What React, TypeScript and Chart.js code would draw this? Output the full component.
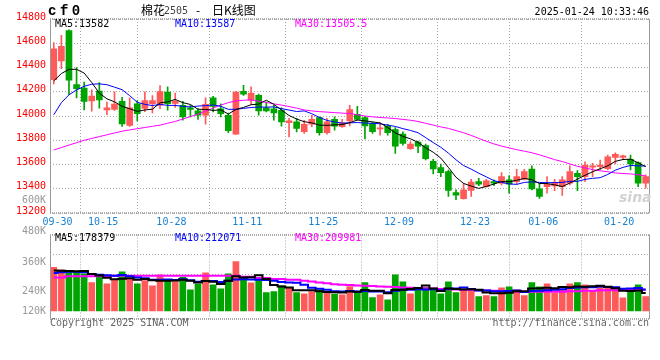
import React, { useEffect, useRef } from "react";
import { Chart, registerables } from "chart.js";

Chart.register(...registerables);

const dates = [
  "09-30","10-08","10-09","10-10","10-11","10-14","10-15","10-16","10-17","10-18",
  "10-21","10-22","10-23","10-24","10-25","10-28","10-29","10-30","10-31","11-01",
  "11-04","11-05","11-06","11-07","11-08","11-11","11-12","11-13","11-14","11-15",
  "11-18","11-19","11-20","11-21","11-22","11-25","11-26","11-27","11-28","11-29",
  "12-02","12-03","12-04","12-05","12-06","12-09","12-10","12-11","12-12","12-13",
  "12-16","12-17","12-18","12-19","12-20","12-23","12-24","12-25","12-26","12-27",
  "12-30","12-31","01-02","01-03","01-06","01-07","01-08","01-09","01-10","01-13",
  "01-14","01-15","01-16","01-17","01-20","01-21","01-22","01-23","01-24"
];

const axisDates = ["09-30","10-15","10-28","11-11","11-25","12-09","12-23","01-06","01-20"];

const openP = [
  14300,14455,14705,14260,14230,14125,14205,14050,14055,14120,
  13922,14100,14062,14102,14090,14198,14103,14088,14068,14042,
  14006,14150,14060,14006,13850,14203,14130,14170,14068,14060,
  14047,13946,13952,13870,13932,13987,13862,13972,13911,13960,
  14014,13987,13938,13894,13916,13889,13850,13730,13785,13757,
  13626,13574,13541,13369,13318,13386,13459,13418,13459,13446,
  13473,13459,13478,13563,13399,13418,13424,13418,13446,13527,
  13500,13577,13582,13566,13659,13659,13642,13615,13446
];
const highP = [
  14605,14665,14710,14400,14280,14215,14275,14115,14200,14155,
  14150,14128,14200,14168,14250,14240,14190,14120,14088,14062,
  14150,14162,14100,14025,14204,14252,14240,14180,14115,14088,
  14068,13980,13980,13965,14006,13993,13980,13993,13973,14088,
  14080,13998,13952,13943,13932,13905,13869,13787,13793,13768,
  13642,13604,13555,13391,13445,13478,13486,13478,13473,13533,
  13506,13560,13560,13590,13445,13500,13478,13500,13590,13549,
  13623,13610,13637,13678,13697,13678,13678,13623,13514
];
const lowP = [
  14265,14390,14175,14150,14050,14040,14065,14010,14045,13915,
  13915,13960,14035,14025,14060,14048,14070,13965,13993,13972,
  13932,14034,13993,13862,13848,14170,14096,14006,14034,13965,
  13916,13828,13869,13856,13911,13842,13850,13883,13905,13919,
  13965,13812,13856,13842,13842,13692,13760,13724,13697,13637,
  13522,13500,13336,13309,13314,13336,13426,13413,13426,13432,
  13363,13437,13473,13391,13320,13363,13385,13344,13432,13385,
  13459,13500,13555,13555,13604,13642,13555,13418,13404
];
const closeP = [
  14555,14575,14295,14225,14120,14165,14133,14068,14098,13935,
  14068,14020,14128,14128,14202,14102,14123,13993,14054,14006,
  14096,14080,14020,13878,14198,14180,14190,14042,14042,14026,
  13952,13960,13897,13932,13972,13862,13952,13916,13943,14053,
  13971,13919,13870,13902,13862,13752,13774,13768,13752,13648,
  13563,13533,13386,13347,13391,13454,13437,13465,13446,13500,
  13437,13500,13541,13399,13337,13437,13445,13473,13541,13500,
  13596,13590,13596,13664,13683,13672,13604,13445,13500
];

const ma5P = [
  14290,14350,14385,14385,14354,14276,14188,14142,14117,14080,
  14060,14038,14050,14056,14109,14116,14137,14110,14095,14056,
  14054,14046,14051,14016,14054,14071,14093,14098,14130,14096,
  14050,14004,13975,13953,13943,13925,13923,13927,13929,13945,
  13967,13960,13951,13943,13905,13861,13832,13812,13782,13739,
  13701,13653,13576,13495,13444,13422,13403,13419,13439,13460,
  13457,13470,13485,13475,13443,13443,13432,13418,13447,13479,
  13511,13540,13565,13589,13626,13641,13644,13614,13582
];
const ma10P = [
  14010,14110,14175,14215,14245,14262,14265,14258,14238,14217,
  14168,14113,14096,14086,14095,14088,14087,14080,14075,14082,
  14085,14091,14080,14055,14055,14063,14070,14074,14073,14075,
  14061,14049,14037,14042,14019,13988,13964,13951,13941,13944,
  13946,13942,13939,13936,13925,13914,13896,13881,13862,13822,
  13781,13742,13694,13639,13591,13562,13528,13498,13467,13452,
  13440,13436,13452,13457,13452,13450,13451,13452,13461,13461,
  13477,13486,13491,13518,13553,13576,13592,13589,13587
];
const ma30P = [
  13720,13740,13760,13780,13800,13815,13830,13845,13860,13875,
  13885,13895,13905,13915,13925,13940,13955,13975,13995,14015,
  14040,14065,14090,14110,14125,14130,14133,14122,14112,14100,
  14090,14078,14065,14050,14042,14036,14032,14028,14024,14020,
  14010,14000,13993,13988,13984,13979,13972,13965,13955,13940,
  13925,13910,13898,13880,13862,13840,13815,13792,13770,13752,
  13737,13722,13710,13697,13680,13660,13640,13625,13605,13585,
  13572,13558,13548,13540,13530,13526,13522,13515,13505.5
];

// volumes in thousands
const volK = [
  433,410,383,387,370,283,343,270,310,390,
  317,270,303,250,360,310,293,333,210,267,
  380,260,220,370,490,320,280,310,183,193,
  250,227,183,170,193,210,187,167,160,243,
  193,283,133,160,110,360,290,170,210,233,
  210,170,290,183,217,217,143,153,143,230,
  240,210,153,283,240,270,177,217,270,283,
  260,200,237,225,210,130,193,260,143
];
const volMa5 = [
  403,400,396,395,397,367,353,331,315,319,
  326,311,318,306,300,299,303,309,301,283,
  297,290,267,299,344,332,336,354,317,257,
  243,233,207,205,205,197,189,185,183,193,
  190,209,202,202,176,209,211,218,228,253,
  223,199,223,217,214,215,210,183,175,177,
  182,195,195,223,225,231,225,237,235,243,
  241,246,250,241,226,200,199,204,178.4
];
const volMa10 = [
  377,385,390,390,385,367,360,355,350,358,
  346,332,324,311,310,312,307,314,304,291,
  298,297,288,300,313,314,313,311,308,301,
  288,284,281,261,231,220,211,196,194,199,
  193,199,194,193,185,200,210,210,215,214,
  216,205,220,223,233,219,204,203,196,196,
  199,203,189,199,201,207,210,216,229,234,
  236,235,244,238,235,221,223,227,212.1
];
const volMa30 = [
  333,333,345,345,345,345,345,345,350,350,
  350,350,350,350,350,350,350,350,350,350,
  350,350,350,350,350,340,340,327,327,317,
  317,310,310,300,293,283,275,265,260,257,
  252,250,247,243,240,237,234,230,227,225,
  222,218,216,213,210,208,205,203,200,197,
  195,193,192,190,190,190,190,192,195,197,
  200,202,205,206,207,208,208,209,210
];

const priceMin = 13200;
const priceMax = 14800;
const priceStep = 200;
const volMin = -80;
const volMax = 760;
const volGridValues = [360, 560];
const volAxisLabels = ["600K", "480K", "360K", "240K", "120K"];

const RED = "#ff5a5a";
const GREEN = "#00a400";
const GRID = "#a8a8a8";
const MONO = "'DejaVu Sans Mono', monospace";

const axisIdx = axisDates.map((d) => dates.indexOf(d));
const candleColors = closeP.map((c, i) => (c >= openP[i] ? RED : GREEN));

const framePlugin = {
  id: "frame",
  afterDraw(chart: any) {
    const { ctx, chartArea: a } = chart;
    ctx.save();
    ctx.strokeStyle = "#999";
    ctx.lineWidth = 1;
    ctx.beginPath();
    const l = Math.round(a.left) + 0.5;
    const r = Math.round(a.right) - 0.5;
    ctx.moveTo(l, a.top);
    ctx.lineTo(l, a.bottom);
    ctx.moveTo(r, a.top);
    ctx.lineTo(r, a.bottom);
    ctx.stroke();
    ctx.setLineDash([1, 1]);
    ctx.lineWidth = 2;
    ctx.strokeStyle = "#aaa";
    ctx.beginPath();
    ctx.moveTo(a.left, Math.round(a.top));
    ctx.lineTo(a.right, Math.round(a.top));
    ctx.moveTo(a.left, Math.round(a.bottom));
    ctx.lineTo(a.right, Math.round(a.bottom));
    ctx.stroke();
    ctx.restore();
  },
};

function xScale(showLabels: boolean) {
  return {
    type: "linear",
    min: -0.5,
    max: dates.length - 0.5,
    offset: false,
    afterBuildTicks: (scale: any) => {
      scale.ticks = axisIdx.map((i) => ({ value: i + 0.5 }));
    },
    afterFit: (scale: any) => {
      scale.height = showLabels ? 17 : 0;
    },
    grid: { color: GRID, lineWidth: 1, drawTicks: false },
    border: { display: false, dash: [1, 2] },
    ticks: {
      display: showLabels,
      autoSkip: false,
      maxRotation: 0,
      padding: 3,
      color: "#1a80d0",
      font: { family: MONO, size: 10 },
      callback: (v: any) => dates[Math.round(Number(v) - 0.5)],
    },
  };
}

const pts = (arr: any[]) => arr.map((y, i) => ({ x: i, y }));

function Txt(props: any) {
  const { x, y, children, color = "#000", size = 10, right = false, family = MONO, weight = "normal", style = {} } = props;
  const lh = size + 2;
  const pos: any = right ? { right: 660 - x } : { left: x };
  return (
    <div
      style={{
        position: "absolute",
        ...pos,
        top: y - lh / 2,
        fontSize: size,
        lineHeight: `${lh}px`,
        color,
        fontFamily: family,
        fontWeight: weight,
        whiteSpace: "nowrap",
        ...style,
      }}
    >
      {children}
    </div>
  );
}

export default function App() {
  const priceRef = useRef<HTMLCanvasElement>(null);
  const volRef = useRef<HTMLCanvasElement>(null);

  useEffect(() => {
    const priceChart = new Chart(priceRef.current as HTMLCanvasElement, {
      type: "bar",
      data: {
        datasets: [
          {
            type: "line",
            data: pts(ma5P),
            borderColor: "#000000",
            borderWidth: 1,
            pointRadius: 0,
            tension: 0,
            order: 0,
          },
          {
            type: "line",
            data: pts(ma10P),
            borderColor: "#0000ff",
            borderWidth: 1,
            pointRadius: 0,
            tension: 0,
            order: 0,
          },
          {
            type: "line",
            data: pts(ma30P),
            borderColor: "#ff00ff",
            borderWidth: 1,
            pointRadius: 0,
            tension: 0,
            order: 0,
          },
          {
            type: "bar",
            data: openP.map((o, i) => ({ x: i, y: [o, closeP[i]] })),
            backgroundColor: candleColors,
            barThickness: 6,
            minBarLength: 1,
            grouped: false,
            order: 1,
          },
          {
            type: "bar",
            data: lowP.map((l, i) => ({ x: i, y: [l, highP[i]] })),
            backgroundColor: candleColors,
            barThickness: 1,
            grouped: false,
            order: 2,
          },
        ],
      } as any,
      options: {
        responsive: false,
        animation: false,
        devicePixelRatio: 1,
        events: [],
        layout: { padding: { left: 0, right: 10.5, top: 19, bottom: 0 } },
        plugins: { legend: { display: false }, tooltip: { enabled: false } },
        scales: {
          x: xScale(true),
          y: {
            type: "linear",
            min: priceMin,
            max: priceMax,
            afterFit: (s: any) => {
              s.width = 50;
            },
            ticks: {
              stepSize: priceStep,
              color: "#ff0000",
              padding: 4,
              labelOffset: -2,
              font: { family: MONO, size: 10 },
              callback: (v: any) => String(v),
            },
            grid: { color: GRID, lineWidth: 1, drawTicks: false },
            border: { display: false, dash: [1, 2] },
          },
        },
      } as any,
      plugins: [framePlugin],
    });

    const volChart = new Chart(volRef.current as HTMLCanvasElement, {
      type: "bar",
      data: {
        datasets: [
          {
            type: "line",
            data: pts(volMa5),
            borderColor: "#000000",
            borderWidth: 2,
            pointRadius: 0,
            stepped: "middle",
            order: 0,
          },
          {
            type: "line",
            data: pts(volMa10),
            borderColor: "#0000ff",
            borderWidth: 2,
            pointRadius: 0,
            stepped: "middle",
            order: 0,
          },
          {
            type: "line",
            data: pts(volMa30),
            borderColor: "#ff00ff",
            borderWidth: 2,
            pointRadius: 0,
            stepped: "middle",
            order: 0,
          },
          {
            type: "bar",
            data: pts(volK),
            backgroundColor: candleColors,
            barThickness: 6,
            grouped: false,
            order: 1,
          },
        ],
      } as any,
      options: {
        responsive: false,
        animation: false,
        devicePixelRatio: 1,
        events: [],
        layout: { padding: { left: 0, right: 10.5, top: 4.5, bottom: 41 } },
        plugins: { legend: { display: false }, tooltip: { enabled: false } },
        scales: {
          x: xScale(false),
          y: {
            type: "linear",
            min: volMin,
            max: volMax,
            afterBuildTicks: (scale: any) => {
              scale.ticks = volGridValues.map((v) => ({ value: v }));
            },
            afterFit: (s: any) => {
              s.width = 50;
            },
            ticks: { display: false },
            grid: { color: GRID, lineWidth: 1, drawTicks: false },
            border: { display: false, dash: [1, 2] },
          },
        },
      } as any,
      plugins: [framePlugin],
    });

    return () => {
      priceChart.destroy();
      volChart.destroy();
    };
  }, []);

  const volLabelYs = [200, 230.7, 261.7, 291, 310.7];

  return (
    <div
      style={{
        position: "fixed",
        left: 0,
        top: 0,
        width: 660,
        height: 360,
        background: "#fff",
        overflow: "hidden",
      }}
    >
      <canvas ref={priceRef} width={660} height={230} style={{ position: "absolute", left: 0, top: 0, width: 660, height: 230 }} />
      <canvas ref={volRef} width={660} height={130} style={{ position: "absolute", left: 0, top: 230, width: 660, height: 130 }} />

      <Txt x={48} y={11} size={14} weight="bold" family="'Liberation Mono', monospace" style={{ letterSpacing: 3.5 }}>
        cf0
      </Txt>
      <Txt x={141} y={10} size={12} family="'Noto Sans CJK SC', sans-serif">棉花</Txt>
      <Txt x={164} y={11} size={10} color="#444">2505</Txt>
      <Txt x={196} y={10} size={12} family="'Noto Sans CJK SC', sans-serif">-</Txt>
      <Txt x={212} y={10} size={12} family="'Noto Sans CJK SC', sans-serif">日K线图</Txt>
      <Txt x={649} y={12} right>2025-01-24 10:33:46</Txt>

      <Txt x={55} y={24}>MA5:13582</Txt>
      <Txt x={175} y={24} color="#0000ff">MA10:13587</Txt>
      <Txt x={295} y={24} color="#ff00ff">MA30:13505.5</Txt>

      <Txt x={55} y={238}>MA5:178379</Txt>
      <Txt x={175} y={238} color="#0000ff">MA10:212071</Txt>
      <Txt x={295} y={238} color="#ff00ff">MA30:209981</Txt>

      {volAxisLabels.map((t, i) => (
        <Txt key={t} x={46} y={volLabelYs[i]} right color="#999">
          {t}
        </Txt>
      ))}

      <Txt
        x={619}
        y={197}
        size={14}
        weight="bold"
        color="#d2d2d2"
        family="'DejaVu Sans', sans-serif"
        style={{ fontStyle: "italic" }}
      >
        sina
      </Txt>

      <Txt x={50} y={323} color="#666">Copyright 2025 SINA.COM</Txt>
      <Txt x={649} y={323} right color="#666">http://finance.sina.com.cn</Txt>
    </div>
  );
}
